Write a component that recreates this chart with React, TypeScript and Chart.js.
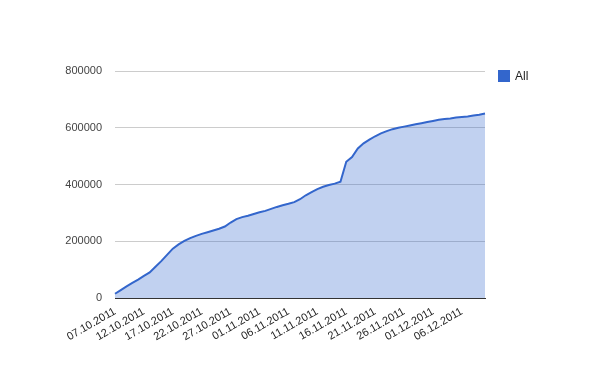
import React, { useEffect, useRef } from "react";
import { Chart, registerables } from "chart.js";

Chart.register(...registerables);

const dates: string[] = [
  "07.10.2011", "08.10.2011", "09.10.2011", "10.10.2011", "11.10.2011",
  "12.10.2011", "13.10.2011", "14.10.2011", "15.10.2011", "16.10.2011",
  "17.10.2011", "18.10.2011", "19.10.2011", "20.10.2011", "21.10.2011",
  "22.10.2011", "23.10.2011", "24.10.2011", "25.10.2011", "26.10.2011",
  "27.10.2011", "28.10.2011", "29.10.2011", "30.10.2011", "31.10.2011",
  "01.11.2011", "02.11.2011", "03.11.2011", "04.11.2011", "05.11.2011",
  "06.11.2011", "07.11.2011", "08.11.2011", "09.11.2011", "10.11.2011",
  "11.11.2011", "12.11.2011", "13.11.2011", "14.11.2011", "15.11.2011",
  "16.11.2011", "17.11.2011", "18.11.2011", "19.11.2011", "20.11.2011",
  "21.11.2011", "22.11.2011", "23.11.2011", "24.11.2011", "25.11.2011",
  "26.11.2011", "27.11.2011", "28.11.2011", "29.11.2011", "30.11.2011",
  "01.12.2011", "02.12.2011", "03.12.2011", "04.12.2011", "05.12.2011",
  "06.12.2011", "07.12.2011", "08.12.2011", "09.12.2011", "10.12.2011",
];

const allValues: number[] = [
  15000, 28000, 41000, 53000, 65000,
  78000, 90000, 110000, 130000, 152000,
  174000, 189000, 201000, 211000, 219000,
  226000, 232000, 238000, 244000, 252000,
  266000, 278000, 285000, 290000, 296000,
  302000, 307000, 314000, 321000, 327000,
  332000, 338000, 348000, 362000, 373000,
  384000, 392000, 398000, 403000, 410000,
  480000, 497000, 527000, 545000, 558000,
  570000, 580000, 588000, 595000, 600000,
  604000, 608000, 612000, 616000, 620000,
  624000, 628000, 631000, 633000, 636000,
  638000, 640000, 643000, 646000, 650000,
];

const seriesName = "All";
const labelEvery = 5;
const yMax = 800000;
const yStep = 200000;

const FONT = "'Liberation Sans', Arial, sans-serif";

const legendPlugin = {
  id: "customLegend",
  afterDraw(chart: any) {
    const { ctx, chartArea } = chart;
    const x = chartArea.right + 13;
    const y = chartArea.top + 5;
    ctx.save();
    ctx.fillStyle = "#3366cc";
    ctx.fillRect(x, y - 6, 12, 12);
    ctx.fillStyle = "#222222";
    ctx.font = `12px ${FONT}`;
    ctx.textAlign = "left";
    ctx.textBaseline = "middle";
    ctx.fillText(seriesName, x + 17, y + 1);
    ctx.restore();
  },
};

export default function App() {
  const ref = useRef<HTMLCanvasElement | null>(null);

  useEffect(() => {
    if (!ref.current) return;
    const chart = new Chart(ref.current, {
      type: "line",
      data: {
        labels: dates,
        datasets: [
          {
            label: seriesName,
            data: allValues,
            borderColor: "#3366cc",
            backgroundColor: "rgba(51,102,204,0.3)",
            borderWidth: 2,
            fill: "origin",
            pointRadius: 0,
            tension: 0,
          },
        ],
      },
      options: {
        animation: false,
        responsive: false,
        maintainAspectRatio: false,
        layout: { padding: { top: 71, right: 115, left: 0, bottom: 0 } },
        plugins: {
          legend: { display: false },
          tooltip: { enabled: false },
        },
        scales: {
          x: {
            type: "category",
            offset: false,
            grid: { display: false, drawTicks: false },
            border: { display: true, color: "#333333", width: 1 },
            ticks: {
              autoSkip: false,
              minRotation: 30,
              maxRotation: 30,
              padding: 7,
              color: "#222222",
              font: { family: FONT, size: 11 },
              callback: (_v: any, i: number) => (i % labelEvery === 0 ? dates[i] : ""),
            },
            afterFit: (scale: any) => {
              scale.height = 73;
            },
          },
          y: {
            min: 0,
            max: yMax,
            grid: { color: "#cccccc", drawTicks: false },
            border: { display: false },
            ticks: {
              stepSize: yStep,
              padding: 13,
              color: "#444444",
              font: { family: FONT, size: 11 },
              callback: (v: any) => String(v),
            },
            afterFit: (scale: any) => {
              scale.width = 115;
            },
          },
        },
      },
      plugins: [legendPlugin],
    });
    return () => chart.destroy();
  }, []);

  return (
    <div style={{ position: "absolute", left: 0, top: 0, width: 600, height: 371, background: "#fff" }}>
      <canvas ref={ref} width={600} height={371} style={{ width: 600, height: 371, display: "block" }} />
    </div>
  );
}
